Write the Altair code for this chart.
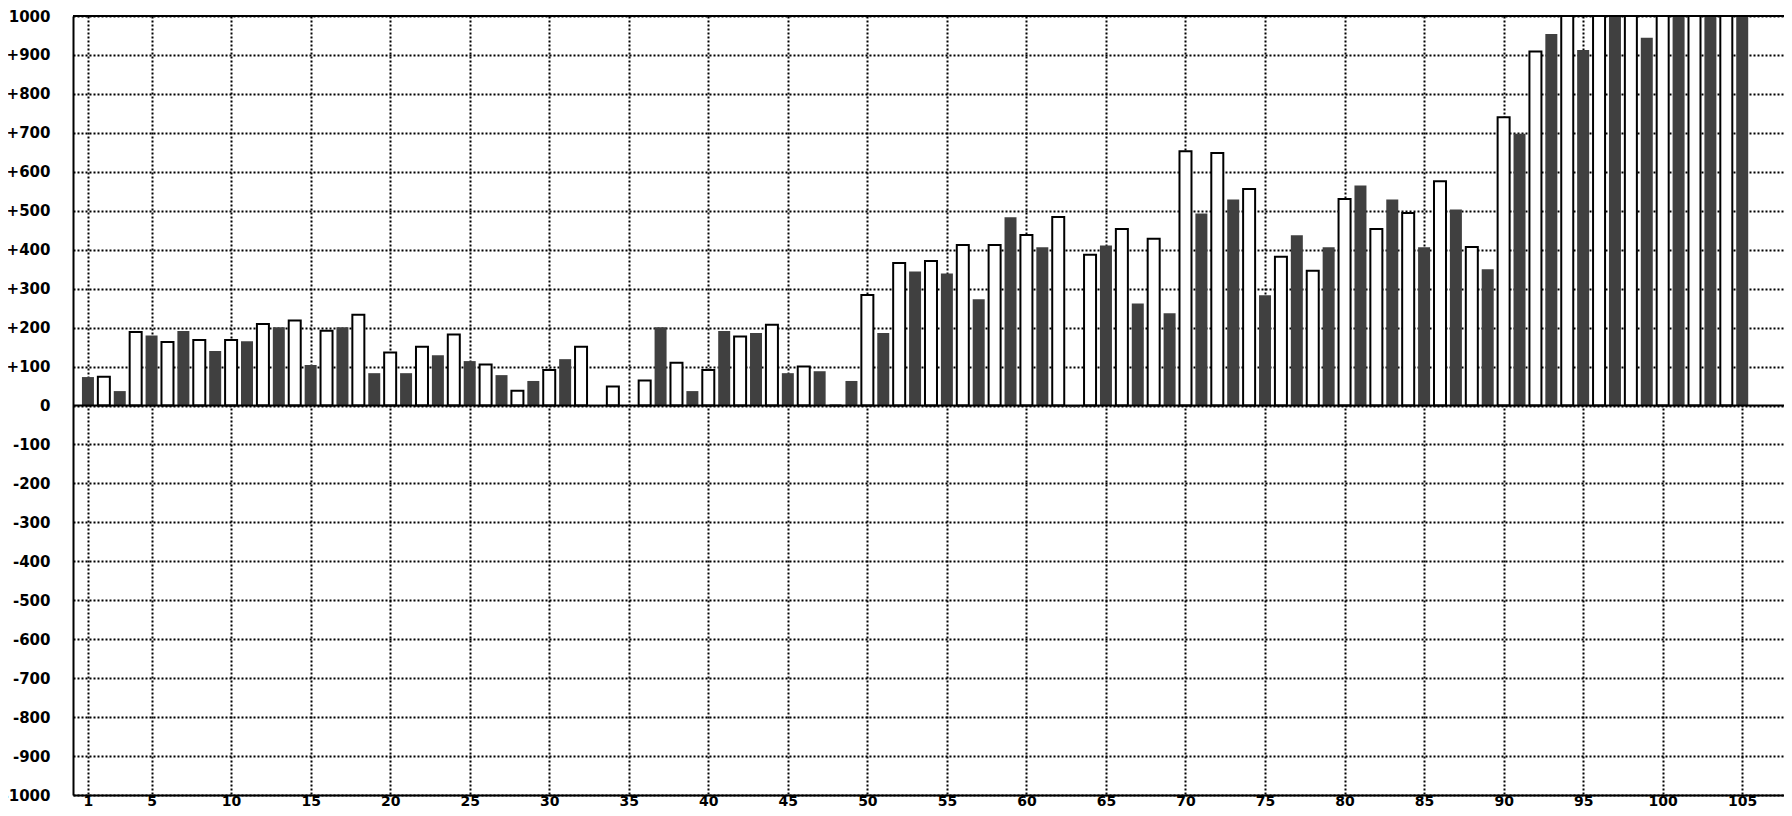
import altair as alt
import pandas as pd

# Odd-numbered positions: dark filled bars
dark_positions = list(range(1, 106, 2))
dark_values = [
    73, 37, 180, 191, 140, 165, 201, 104, 201, 83,
    83, 129, 114, 78, 63, 119, -2, 0, 201, 37,
    191, 186, 83, 88, 63, 186, 344, 339, 273, 483,
    406, -4, 411, 262, 237, 493, 529, 283, 437, 406,
    565, 529, 406, 503, 350, 698, 954, 913, 1100, 944,
    1100, 1100, 1100,
]

# Even-numbered positions: white outlined bars
light_positions = list(range(2, 105, 2))
light_values = [
    74, 189, 163, 168, 168, 209, 218, 192, 233, 136,
    151, 182, 105, 38, 91, 151, 49, 64, 110, 91,
    177, 207, 100, 0, 284, 366, 371, 412, 412, 438,
    484, 387, 453, 428, 653, 648, 556, 382, 346, 530,
    453, 494, 576, 407, 740, 909, 1100, 1100, 1100, 1100,
    1100, 1100,
]

x_ticks = [1] + list(range(5, 106, 5))
y_ticks = list(range(-1000, 1001, 100))
border_values = [0, 1000]

dark_df = pd.DataFrame({"pos": dark_positions, "value": dark_values})
light_df = pd.DataFrame({"pos": light_positions, "value": light_values})
border_df = pd.DataFrame({"value": border_values})

FONT = "DejaVu Sans"

x_scale = alt.Scale(domain=[0.375, 107.3125], nice=False, zero=False)
y_scale = alt.Scale(domain=[-1000, 1000], nice=False, zero=False)

x_axis = alt.Axis(
    values=x_ticks, grid=True, gridDash=[2, 2], gridWidth=2, gridColor="black",
    gridOpacity=1, ticks=False, tickSize=0, domain=True, domainColor="black",
    domainWidth=2, labelFont=FONT, labelFontSize=14, labelFontWeight="bold",
    labelColor="black", labelPadding=-1, labelFlush=False, labelOverlap=False,
    title=None,
)
y_axis = alt.Axis(
    values=y_ticks, grid=True, gridDash=[2, 2], gridWidth=2, gridColor="black",
    gridOpacity=1, ticks=False, tickSize=0, domain=True, domainColor="black",
    domainWidth=2, labelFont=FONT, labelFontSize=15, labelFontWeight="bold",
    labelColor="black", labelPadding=23, labelFlush=False, labelOverlap=False,
    labelExpr="datum.value > 0 ? '+' + datum.value : (datum.value < 0 ? '-' + abs(datum.value) : '0')",
    title=None,
)

x_enc = alt.X("pos:Q", scale=x_scale, axis=x_axis)
y_enc = alt.Y("value:Q", scale=y_scale, axis=y_axis)

dark_bars = alt.Chart(dark_df).mark_bar(
    width=12, clip=True, color="#404040"
).encode(x=x_enc, y=y_enc, y2=alt.datum(0))

light_bars = alt.Chart(light_df).mark_bar(
    width=12, clip=True, fill="white", stroke="black", strokeWidth=2
).encode(x=x_enc, y=y_enc, y2=alt.datum(0))

borders = alt.Chart(border_df).mark_rule(
    color="black", strokeWidth=2
).encode(y=alt.Y("value:Q", scale=y_scale, axis=y_axis))

chart = alt.layer(dark_bars, light_bars, borders).properties(
    width=1711,
    height=779,
    autosize=alt.AutoSizeParams(type="none"),
    padding={"left": 65, "top": 8, "right": 0, "bottom": 13},
).configure_view(strokeWidth=0).configure(background="white")

chart.save("out.html", embed_options={"renderer": "svg", "actions": False})
